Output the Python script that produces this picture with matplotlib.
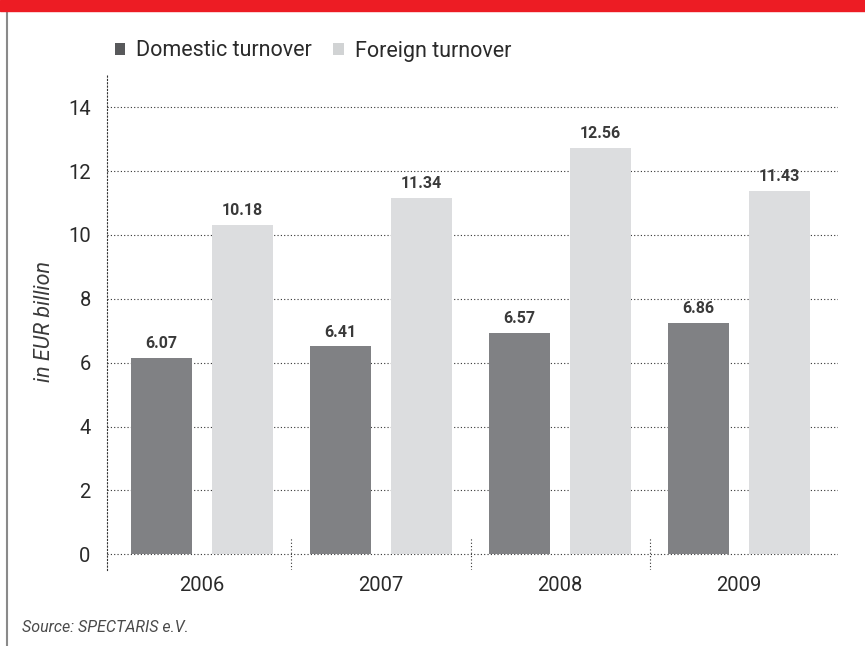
import matplotlib
matplotlib.use("Agg")
import matplotlib.pyplot as plt
from matplotlib.patches import Rectangle, Patch
from matplotlib.lines import Line2D

plt.rcParams["font.family"] = ["Roboto", "DejaVu Sans"]

years = ["2006", "2007", "2008", "2009"]
domestic_labels = ["6.07", "6.41", "6.57", "6.86"]
foreign_labels = ["10.18", "11.34", "12.56", "11.43"]
# bar heights as drawn in the picture (they differ a bit from the printed values)
domestic = [6.15, 6.51, 6.93, 7.25]
foreign = [10.31, 11.16, 12.73, 11.39]
yticks = [0, 2, 4, 6, 8, 10, 12, 14]

dark = "#808184"
light = "#dcdddf"
txt = "#231f20"
dots = (0, (1, 2))

fig = plt.figure(figsize=(8.65, 6.46), dpi=100)
W, H = 865, 646
ax = fig.add_axes([107.3 / W, (H - 570) / H, (838 - 107.3) / W, (570 - 75) / H])

x = list(range(len(years)))
bw = 0.341
off = 0.226
b1 = ax.bar([i - off for i in x], domestic, bw, color=dark, zorder=2)
b2 = ax.bar([i + off for i in x], foreign, bw, color=light, zorder=2)

for rects, labs in ((b1, domestic_labels), (b2, foreign_labels)):
    for r, lab in zip(rects, labs):
        ax.annotate(lab, (r.get_x() + r.get_width() / 2, r.get_height()),
                    xytext=(0, 5), textcoords="offset points", ha="center",
                    va="bottom", fontsize=11.5, fontweight="bold", color="#3a3a3a")

ax.set_xlim(-0.529, 3.553)
ax.set_ylim(-0.49, 15.01)
for y in yticks:
    ax.axhline(y, color="#333333", lw=0.8, ls=dots, zorder=1)
ax.vlines([0.5, 1.5, 2.5], -0.49, 0.54, color="#333333", lw=0.8, ls=dots)

for s in ("top", "right", "bottom"):
    ax.spines[s].set_visible(False)
ax.spines["left"].set_linestyle(dots)
ax.spines["left"].set_linewidth(0.8)
ax.spines["left"].set_color("#333333")

ax.set_yticks(yticks)
ax.set_yticklabels([str(v) for v in yticks])
ax.set_xticks(x)
ax.set_xticklabels(years)
ax.tick_params(axis="both", length=0, labelsize=14.5, labelcolor="#2a2a2a")
ax.tick_params(axis="y", pad=12)
ax.tick_params(axis="x", pad=4)

fig.text(45 / W, 1 - 322 / H, "in EUR billion", rotation=90, style="italic",
         fontsize=15.5, color="#3a3a3a", ha="center", va="center")
fig.text(22 / W, 1 - 627 / H, "Source: SPECTARIS e.V.", style="italic",
         fontsize=11.5, color="#4a4a4a", ha="left", va="center")

handles = [Patch(facecolor="#58595b", label="Domestic turnover"),
           Patch(facecolor="#d1d3d4", label="Foreign turnover")]
fig.legend(handles=handles, loc="center left", bbox_to_anchor=(106 / W, 1 - 51 / H),
           ncol=2, frameon=False, fontsize=15.5, handlelength=0.5, handleheight=0.5,
           handletextpad=0.5, columnspacing=1.0, labelcolor="#2a2a2a", borderaxespad=0)

fig.patches.append(Rectangle((0, 1 - 11 / H), 1, 11 / H, transform=fig.transFigure,
                             color="#ed1c24", zorder=5))
fig.lines.append(Line2D([6.5 / W, 6.5 / W], [0, 1 - 11 / H], transform=fig.transFigure,
                        color="#8a8a8a", lw=1.5))

fig.savefig("out.png", dpi=100, facecolor="white")
